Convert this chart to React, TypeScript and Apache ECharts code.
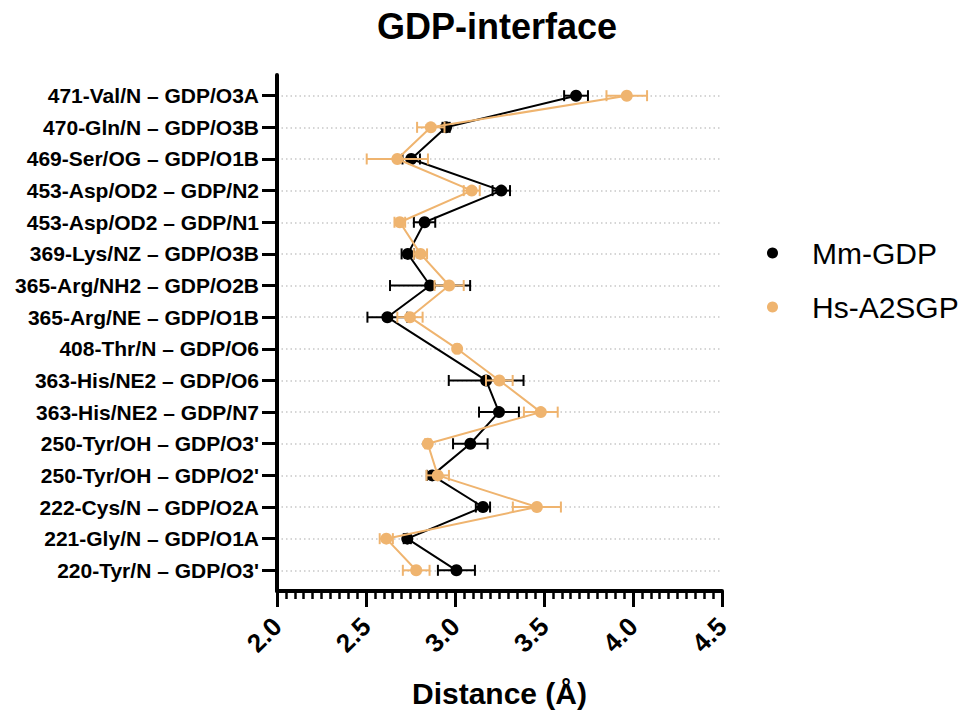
import React, { useEffect, useRef } from "react";
import * as echarts from "echarts";

// Categories listed from top to bottom
const categories = [
  "471-Val/N – GDP/O3A",
  "470-Gln/N – GDP/O3B",
  "469-Ser/OG – GDP/O1B",
  "453-Asp/OD2 – GDP/N2",
  "453-Asp/OD2 – GDP/N1",
  "369-Lys/NZ – GDP/O3B",
  "365-Arg/NH2 – GDP/O2B",
  "365-Arg/NE – GDP/O1B",
  "408-Thr/N – GDP/O6",
  "363-His/NE2 – GDP/O6",
  "363-His/NE2 – GDP/N7",
  "250-Tyr/OH – GDP/O3'",
  "250-Tyr/OH – GDP/O2'",
  "222-Cys/N – GDP/O2A",
  "221-Gly/N – GDP/O1A",
  "220-Tyr/N – GDP/O3'",
];

const mmMean: (number | null)[] = [
  3.68, 2.95, 2.754, 3.26, 2.829, 2.735, 2.86, 2.62, null, 3.175, 3.247, 3.086, 2.872, 3.157, 2.732, 3.008,
];
const mmErr = [
  0.067, 0.02, 0.049, 0.049, 0.06, 0.035, 0.225, 0.112, 0, 0.21, 0.112, 0.097, 0.03, 0.04, 0.02, 0.104,
];
const hsMean: (number | null)[] = [
  3.965, 2.864, 2.676, 3.094, 2.69, 2.806, 2.967, 2.747, 3.012, 3.249, 3.482, 2.847, 2.903, 3.46, 2.614, 2.782,
];
const hsErr = [
  0.114, 0.077, 0.172, 0.045, 0.03, 0.037, 0.082, 0.071, 0.01, 0.075, 0.095, 0.015, 0.063, 0.135, 0.037, 0.075,
];

const seriesNames = ["Mm-GDP", "Hs-A2SGP"];
const xMin = 2.0;
const xMax = 4.5;
const xInterval = 0.5;

const BLACK = "#000000";
const ORANGE = "#EFB46F";
const FONT = "'Liberation Sans', Arial, Helvetica, sans-serif";

const rowValue = (i: number) => categories.length - i;
const rowTicks = categories.map((_, i) => rowValue(i));

function errorBarSeries(name: string, means: (number | null)[], errs: number[], color: string, z: number) {
  return {
    type: "custom",
    name,
    z,
    silent: true,
    renderItem: (params: any, api: any) => {
      const x = api.value(0);
      const y = api.value(1);
      const e = api.value(2);
      const l = api.coord([x - e, y]);
      const r = api.coord([x + e, y]);
      const cap = 5.5;
      const style = { stroke: color, lineWidth: 2, fill: "none" };
      return {
        type: "group",
        children: [
          { type: "line", shape: { x1: l[0], y1: l[1], x2: r[0], y2: r[1] }, style },
          { type: "line", shape: { x1: l[0], y1: l[1] - cap, x2: l[0], y2: l[1] + cap }, style },
          { type: "line", shape: { x1: r[0], y1: r[1] - cap, x2: r[0], y2: r[1] + cap }, style },
        ],
      };
    },
    data: means
      .map((m, i) => (m == null ? null : [m, rowValue(i), errs[i]]))
      .filter((d) => d !== null),
  };
}

function lineSeries(name: string, means: (number | null)[], color: string, z: number) {
  return {
    type: "line",
    name,
    z,
    symbol: "circle",
    symbolSize: 12,
    connectNulls: true,
    lineStyle: { color, width: 2 },
    itemStyle: { color, borderWidth: 0, opacity: 1 },
    data: means
      .map((m, i) => (m == null ? null : [m, rowValue(i)]))
      .filter((d) => d !== null),
  };
}

export default function App() {
  const ref = useRef<HTMLDivElement>(null);

  useEffect(() => {
    if (!ref.current) return;
    const chart = echarts.init(ref.current, null, { renderer: "svg" });
    chart.setOption({
      animation: false,
      backgroundColor: "#ffffff",
      title: {
        text: "GDP-interface",
        left: 372,
        top: 3,
        textStyle: { fontFamily: FONT, fontWeight: "bold", fontSize: 36, color: "#000" },
      },
      legend: {
        data: seriesNames.map((n) => ({ name: n, icon: "circle" })),
        orient: "vertical",
        left: 762,
        top: 233,
        itemWidth: 11,
        itemHeight: 11,
        itemGap: 24,
        textStyle: {
          fontFamily: FONT,
          fontSize: 30,
          color: "#000",
          padding: [0, 0, 0, 29],
        },
      },
      grid: { left: 277, right: 245, top: 75, bottom: 124, containLabel: false, outerBoundsMode: "none" },
      xAxis: {
        type: "value",
        min: xMin,
        max: xMax,
        interval: xInterval,
        name: "Distance (Å)",
        nameLocation: "middle",
        nameGap: 87,
        nameMoveOverlap: false,
        nameTextStyle: { fontFamily: FONT, fontWeight: "bold", fontSize: 30, color: "#000" },
        axisLine: { show: true, onZero: false, lineStyle: { color: "#000", width: 4 } },
        axisTick: { show: true, length: 16, lineStyle: { color: "#000", width: 3 } },
        minorTick: { show: true, splitNumber: 10, length: 8, lineStyle: { color: "#000", width: 2.5 } },
        splitLine: { show: false },
        minorSplitLine: { show: false },
        axisLabel: {
          rotate: 45,
          margin: 31,
          fontFamily: FONT,
          fontWeight: "bold",
          fontSize: 26,
          color: "#000",
          formatter: (v: number) => v.toFixed(1),
        },
      },
      yAxis: {
        type: "value",
        min: 0.346,
        max: 16.654,
        axisLine: { show: true, onZero: false, lineStyle: { color: "#000", width: 4 } },
        axisTick: { show: true, length: 15, customValues: rowTicks, lineStyle: { color: "#000", width: 3 } },
        splitLine: { show: false },
        axisLabel: {
          customValues: rowTicks,
          margin: 18,
          fontFamily: FONT,
          fontWeight: "bold",
          fontSize: 21,
          color: "#000",
          formatter: (v: number) => categories[categories.length - Math.round(v)] ?? "",
        },
      },
      series: [
        {
          type: "line",
          name: "grid-lines",
          z: 0,
          data: [],
          silent: true,
          markLine: {
            z: 0,
            silent: true,
            symbol: ["none", "none"],
            label: { show: false },
            lineStyle: { color: "#c8c8c8", type: [1.5, 3], width: 1.5 },
            data: rowTicks.map((v) => ({ yAxis: v })),
          },
        },
        errorBarSeries("Mm-GDP-err", mmMean, mmErr, BLACK, 1),
        lineSeries(seriesNames[0], mmMean, BLACK, 2),
        errorBarSeries("Hs-A2SGP-err", hsMean, hsErr, ORANGE, 3),
        lineSeries(seriesNames[1], hsMean, ORANGE, 4),
      ],
    });
    return () => chart.dispose();
  }, []);

  return (
    <div
      ref={ref}
      style={{ position: "fixed", left: 0, top: 0, width: 967, height: 715, background: "#fff" }}
    />
  );
}
